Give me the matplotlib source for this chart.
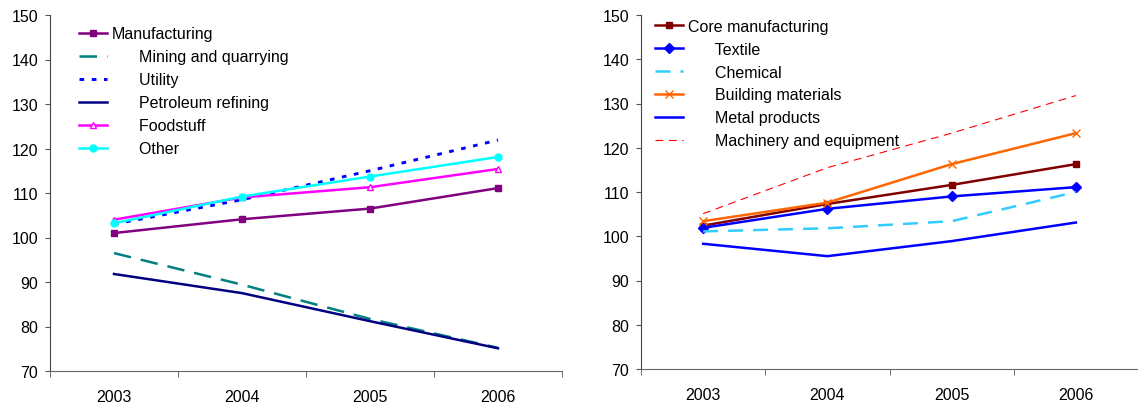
import numpy as np
import matplotlib
matplotlib.use('Agg')
import matplotlib.pyplot as plt

plt.rcParams['font.family'] = ['Liberation Sans', 'DejaVu Sans']

# datos
anios = ['2003', '2004', '2005', '2006']

manufacturing = [101.0, 104.1, 106.5, 111.1]
mining = [96.5, 89.4, 81.7, 75.2]
utility = [103.0, 108.5, 115.0, 121.9]
petroleum = [91.8, 87.5, 81.2, 75.1]
foodstuff = [104.0, 109.0, 111.3, 115.4]
other = [103.2, 109.2, 113.7, 118.1]

core_manuf = [102.4, 107.3, 111.6, 116.3]
textile = [101.9, 106.2, 109.0, 111.1]
chemical = [101.1, 101.8, 103.4, 110.0]
building = [103.4, 107.6, 116.3, 123.3]
metal = [98.3, 95.5, 98.9, 103.1]
machinery = [105.1, 115.5, 123.3, 131.8]

x = np.arange(len(anios))

fig = plt.figure(figsize=(11.38, 4.06), dpi=100)
ax1 = fig.add_axes([50/1138, 1-372/406, 512/1138, 356/406])
ax2 = fig.add_axes([641/1138, 1-370/406, 497/1138, 354/406])

lw = 1.8
ind = '      '
fs = 11.5

# panel izquierdo
ax1.plot(x, manufacturing, color='#800080', lw=lw, marker='s', ms=5, label='Manufacturing')
ax1.plot(x, mining, color='#008080', lw=lw, dashes=(7, 4), label=ind + 'Mining and quarrying')
ax1.plot(x, utility, color='#0000FF', lw=lw + 0.3, dashes=(1.6, 2.6), label=ind + 'Utility')
ax1.plot(x, petroleum, color='#000080', lw=lw, label=ind + 'Petroleum refining')
ax1.plot(x, foodstuff, color='#FF00FF', lw=lw, marker='^', ms=5, mfc='white', mec='#FF00FF', label=ind + 'Foodstuff')
ax1.plot(x, other, color='#00FFFF', lw=lw, marker='o', ms=5, label=ind + 'Other')

# panel derecho
ax2.plot(x, core_manuf, color='#800000', lw=lw, marker='s', ms=5, label='Core manufacturing')
ax2.plot(x, textile, color='#0000FF', lw=lw, marker='D', ms=5, label=ind + 'Textile')
ax2.plot(x, chemical, color='#33CCFF', lw=lw, dashes=(6, 4), label=ind + 'Chemical')
ax2.plot(x, building, color='#FF6600', lw=lw, marker='x', ms=6, mew=1, label=ind + 'Building materials')
ax2.plot(x, metal, color='#0000FF', lw=lw, label=ind + 'Metal products')
ax2.plot(x, machinery, color='#FF0000', lw=0.8, dashes=(7, 5), label=ind + 'Machinery and equipment')

for ax, lx, ly in ((ax1, 0.057, 0.968), (ax2, 0.028, 0.99)):
    ax.set_ylim(70, 150)
    ax.set_yticks(range(70, 151, 10))
    ax.set_xlim(-0.5, 3.5)
    ax.set_xticks(x)
    ax.set_xticklabels(anios)
    ax.set_xticks(np.arange(-0.5, 3.6, 1), minor=True)
    ax.tick_params(axis='x', which='major', length=0, pad=13, labelsize=fs)
    ax.tick_params(axis='x', which='minor', length=4, direction='out', color='#555555')
    ax.tick_params(axis='y', length=3.5, direction='out', labelsize=fs, pad=5, color='#555555')
    ax.spines['top'].set_visible(False)
    ax.spines['right'].set_visible(False)
    ax.spines['left'].set_color('#444444')
    ax.spines['bottom'].set_color('#666666')
    ax.legend(loc='upper left', bbox_to_anchor=(lx, ly), frameon=False, fontsize=fs,
              handlelength=1.75, handletextpad=0.3, labelspacing=0.5, borderpad=0,
              borderaxespad=0)

fig.savefig('out.png', dpi=100)
